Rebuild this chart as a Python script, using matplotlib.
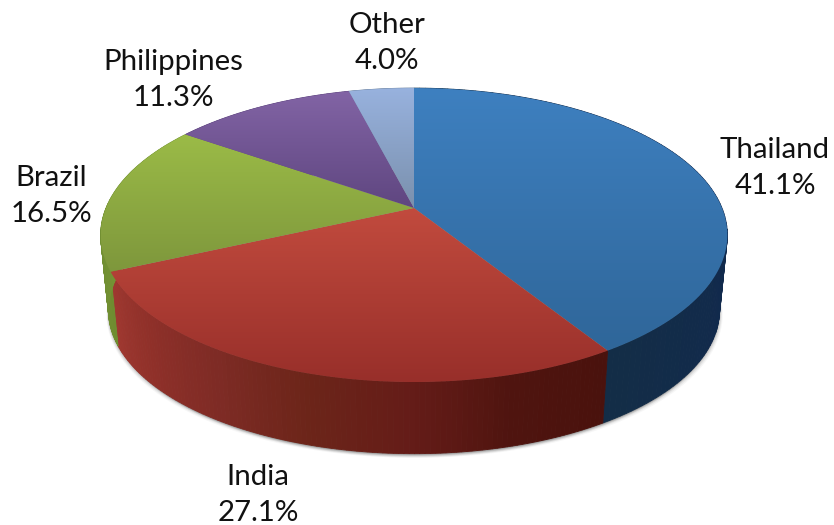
import numpy as np
import matplotlib
matplotlib.use('Agg')
import matplotlib.pyplot as plt
from matplotlib.colors import LinearSegmentedColormap
from matplotlib.patches import Polygon

categories = ['Thailand', 'India', 'Brazil', 'Philippines', 'Other']
shares = [41.1, 27.1, 16.5, 11.3, 4.0]

#top face colours (top of wedge, bottom of wedge)
top_colors = [('#3e80c0', '#2f6699'), ('#c24b3e', '#982f2a'), ('#9bbb47', '#7e973c'),
              ('#8264a5', '#5f4680'), ('#98b2de', '#7a90ad')]
#side wall colours, going clockwise round the rim
side_colors = [['#12334f', '#11294e', '#11294e', '#132d47'],
               ['#4a120d', '#4f140f', '#651c18', '#6c2519', '#7e2b25', '#8f3029', '#a03830'],
               ['#6f8c30', '#7a9a3a'], ['#5f4680', '#5f4680'], ['#7a90ad', '#7a90ad']]
label_pos = [(775, 168), (258, 495), (51, 196), (173, 80), (387, 43)]

#projection of the pie: apex, radii, perspective, depth
cx, cy = 414, 208
rx, ry = 308, 142
k = 0.184
depth = 76
shrink = 0.975


def project(t, bottom=False):
    w = 1 / (1 + k*np.cos(t))
    x = rx*np.sin(t)*w
    y = -ry*np.cos(t)*w
    if bottom:
        return cx + shrink*x, cy + shrink*y + depth
    return cx + x, cy + y


fig = plt.figure(figsize=(8.34, 5.25), dpi=100)
ax = fig.add_axes([0, 0, 1, 1])

edges = np.radians(np.cumsum([0] + shares)*360/sum(shares))

#soft shadow under the rim
t_all = np.linspace(0, 2*np.pi, 361)
bx, by = project(t_all, bottom=True)
for off, alpha in [(4, 0.05), (3, 0.08), (2, 0.12), (1, 0.18)]:
    ax.add_patch(Polygon(np.column_stack([bx + off*0.8, by + off]), closed=True,
                         fc='#555555', ec='none', alpha=alpha, zorder=1))
    ax.add_patch(Polygon(np.column_stack([bx - off*0.5, by + off]), closed=True,
                         fc='#555555', ec='none', alpha=alpha, zorder=1))

#side walls
for i in range(len(shares)):
    cmap = LinearSegmentedColormap.from_list('side', side_colors[i])
    ts = np.linspace(edges[i], edges[i+1], 120)
    for n, (a, b) in enumerate(zip(ts[:-1], ts[1:])):
        xa, ya = project(a)
        xb, yb = project(b)
        xc, yc = project(b, bottom=True)
        xd, yd = project(a, bottom=True)
        c = cmap(n/118)
        ax.add_patch(Polygon([(xa, ya), (xb, yb), (xc, yc), (xd, yd)], closed=True,
                             fc=c, ec=c, lw=0.6, zorder=2))

#top faces with a vertical gradient
grad = np.linspace(0, 1, 256).reshape(-1, 1)
for i in range(len(shares)):
    ts = np.linspace(edges[i], edges[i+1], 200)
    xs, ys = project(ts)
    xs = np.concatenate([[cx], xs])
    ys = np.concatenate([[cy], ys])
    cmap = LinearSegmentedColormap.from_list('top', top_colors[i])
    im = ax.imshow(grad, cmap=cmap, aspect='auto', origin='upper', zorder=3,
                   extent=[xs.min(), xs.max(), ys.max(), ys.min()], interpolation='bilinear')
    clip = Polygon(np.column_stack([xs, ys]), closed=True, fc='none', ec='none',
                   transform=ax.transData)
    ax.add_patch(clip)
    im.set_clip_path(clip)

for cat, share, pos in zip(categories, shares, label_pos):
    ax.text(pos[0], pos[1], f'{cat}\n{share:.1f}%', ha='center', va='center', fontsize=21.2,
            family='Lato', color='#111111', linespacing=1.47, zorder=5)

ax.set_xlim(0, 834)
ax.set_ylim(525, 0)
ax.axis('off')
fig.savefig('out.png', dpi=100, facecolor='white')
